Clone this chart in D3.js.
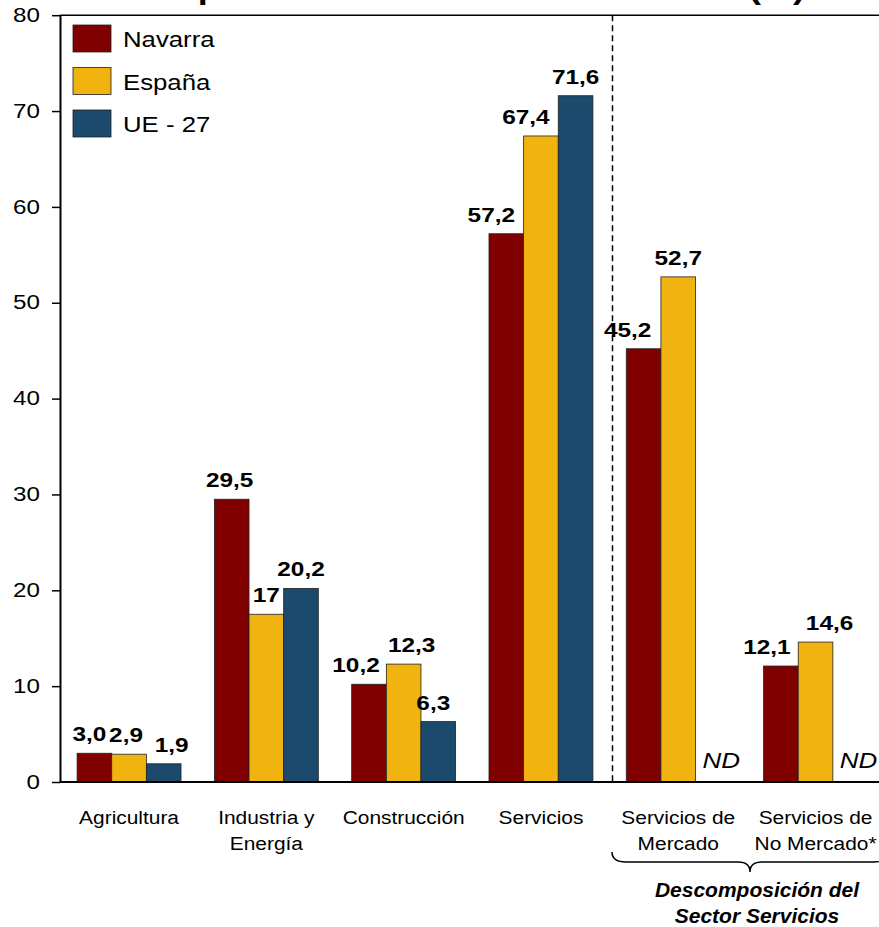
<!DOCTYPE html>
<html>
<head>
<meta charset="utf-8">
<script src="https://cdnjs.cloudflare.com/ajax/libs/d3/7.8.5/d3.min.js"></script>
<style>
  body { margin: 0; background: #fff; }
  svg { display: block; font-family: "Liberation Sans", Arial, sans-serif; }
</style>
</head>
<body>
<script>
// data
var categories = ["Agricultura", "Industria y\nEnergía", "Construcción", "Servicios",
                  "Servicios de\nMercado", "Servicios de\nNo Mercado*"];
var series = ["Navarra", "España", "UE - 27"];
var navarra = [3.0, 29.5, 10.2, 57.2, 45.2, 12.1];
var espana  = [2.9, 17.5, 12.3, 67.4, 52.7, 14.6];
var ue27    = [1.9, 20.2, 6.3, 71.6, null, null];
var navarraLabels = ["3,0", "29,5", "10,2", "57,2", "45,2", "12,1"];
var espanaLabels  = ["2,9", "17", "12,3", "67,4", "52,7", "14,6"];
var ue27Labels    = ["1,9", "20,2", "6,3", "71,6", "ND", "ND"];
var yTicks = [0, 10, 20, 30, 40, 50, 60, 70, 80];
var colors = ["#800000", "#F0B310", "#1B4A6D"];

// label nudges (Excel moved overlapping labels sideways)
var nudge = [[-5, -3, 8], [-2, 0, 0], [-13, 8, -5], [-15, -15, 0], [-16, 0, 0], [-14, 14, 0]];

var W = 879, H = 927;
var svg = d3.select("body")
        .append("svg")
        .attr("width", W)
        .attr("height", H);

var x0 = d3.scaleBand()
        .domain(d3.range(categories.length))
        .range([60.4, 884.2])
        .paddingInner(0.243)
        .paddingOuter(0.1215);
var x1 = d3.scaleBand()
        .domain(d3.range(series.length))
        .range([0, x0.bandwidth()]);
var y = d3.scaleLinear()
        .domain([0, 80])
        .range([782, 15.2]);

function sText(sel, x, yy, sx) {
    sel.attr("x", 0).attr("y", 0)
       .attr("transform", "translate(" + x + "," + yy + ") scale(" + sx + ",1)");
    return sel;
}

// title (cut off at the top in the source, only descenders show)
sText(svg.append("text"), 805, -1, 1.2)
    .attr("text-anchor", "end")
    .attr("font-weight", "bold")
    .attr("font-size", 30)
    .text("Composición sectorial del VAB 2008 (%)");

// top border + dashed separator
svg.append("line")
    .attr("x1", 60).attr("x2", W)
    .attr("y1", y(80)).attr("y2", y(80))
    .attr("stroke", "#000").attr("stroke-width", 1.6);

svg.append("line")
    .attr("x1", 612.5).attr("x2", 612.5)
    .attr("y1", y(80)).attr("y2", y(0))
    .attr("stroke", "#000").attr("stroke-width", 1.5)
    .attr("stroke-dasharray", "6,4");

// bars
var rows = categories.map(function(c, i) {
    return [navarra[i], espana[i], ue27[i]].map(function(v, j) {
        return { cat: i, s: j, v: v, label: [navarraLabels, espanaLabels, ue27Labels][j][i] };
    });
});

var groups = svg.selectAll(".grp")
    .data(rows)
    .enter()
    .append("g")
    .attr("class", "grp")
    .attr("transform", function(d, i) { return "translate(" + x0(i) + ",0)"; });

groups.selectAll("rect")
    .data(function(d) { return d.filter(function(e) { return e.v != null; }); })
    .enter()
    .append("rect")
    .attr("x", function(d) { return x1(d.s); })
    .attr("width", x1.bandwidth())
    .attr("y", function(d) { return y(d.v); })
    .attr("height", function(d) { return y(0) - y(d.v); })
    .attr("fill", function(d) { return colors[d.s]; })
    .attr("stroke", "#222")
    .attr("stroke-width", 0.8);

groups.selectAll(".val")
    .data(function(d) { return d.filter(function(e) { return e.v != null; }); })
    .enter()
    .append("text")
    .attr("class", "val")
    .attr("text-anchor", "middle")
    .attr("font-weight", "bold")
    .attr("font-size", 19.5)
    .each(function(d) {
        sText(d3.select(this), x1(d.s) + x1.bandwidth() / 2 + nudge[d.cat][d.s], y(d.v) - 12, 1.25);
    })
    .text(function(d) { return d.label; });

groups.selectAll(".nd")
    .data(function(d) { return d.filter(function(e) { return e.v == null; }); })
    .enter()
    .append("text")
    .attr("class", "nd")
    .attr("font-style", "italic")
    .attr("font-size", 22)
    .each(function(d) {
        sText(d3.select(this), x1(d.s) + 7, y(0) - 14, 1.18);
    })
    .text(function(d) { return d.label; });

// y axis
var yAxis = svg.append("g")
    .attr("transform", "translate(60,0)")
    .call(d3.axisLeft(y).tickValues(yTicks).tickSize(8).tickSizeOuter(0).tickPadding(12));
yAxis.select(".domain").attr("stroke-width", 2);
yAxis.selectAll(".tick line").attr("stroke-width", 1.5);
yAxis.selectAll(".tick text")
    .attr("font-size", 19.5)
    .attr("font-family", "Liberation Sans, Arial, sans-serif")
    .attr("fill", "#000")
    .attr("x", 0)
    .attr("transform", "translate(-20,0) scale(1.24,1)");

// x axis baseline
svg.append("line")
    .attr("x1", 60).attr("x2", W)
    .attr("y1", y(0)).attr("y2", y(0))
    .attr("stroke", "#000").attr("stroke-width", 2);

// category labels
categories.forEach(function(c, i) {
    var cx = x0(i) + x0.bandwidth() / 2;
    c.split("\n").forEach(function(line, k) {
        sText(svg.append("text"), cx, 824 + k * 26, 1.1)
            .attr("text-anchor", "middle")
            .attr("font-size", 19)
            .text(line);
    });
});

// legend
series.forEach(function(s, i) {
    var ly = 25 + i * 42.5;
    svg.append("rect")
        .attr("x", 73).attr("y", ly)
        .attr("width", 38).attr("height", 27)
        .attr("fill", colors[i])
        .attr("stroke", "#222").attr("stroke-width", 0.8);
    sText(svg.append("text"), 123, ly + 22, 1.12)
        .attr("font-size", 23)
        .text(s);
});

// brace under the services breakdown
var bx0 = 612, bx1 = 888, bm = (bx0 + bx1) / 2, by = 852;
svg.append("path")
    .attr("d", "M" + bx0 + "," + by +
        " Q" + bx0 + "," + (by + 10) + " " + (bx0 + 14) + "," + (by + 10) +
        " L" + (bm - 12) + "," + (by + 10) +
        " Q" + bm + "," + (by + 10) + " " + bm + "," + (by + 20) +
        " Q" + bm + "," + (by + 10) + " " + (bm + 12) + "," + (by + 10) +
        " L" + (bx1 - 14) + "," + (by + 10) +
        " Q" + bx1 + "," + (by + 10) + " " + bx1 + "," + by)
    .attr("fill", "none")
    .attr("stroke", "#000")
    .attr("stroke-width", 1.5);

["Descomposición del", "Sector Servicios"].forEach(function(t, k) {
    sText(svg.append("text"), 757, 897 + k * 26, 1.05)
        .attr("text-anchor", "middle")
        .attr("font-weight", "bold")
        .attr("font-style", "italic")
        .attr("font-size", 20)
        .text(t);
});
</script>
</body>
</html>
